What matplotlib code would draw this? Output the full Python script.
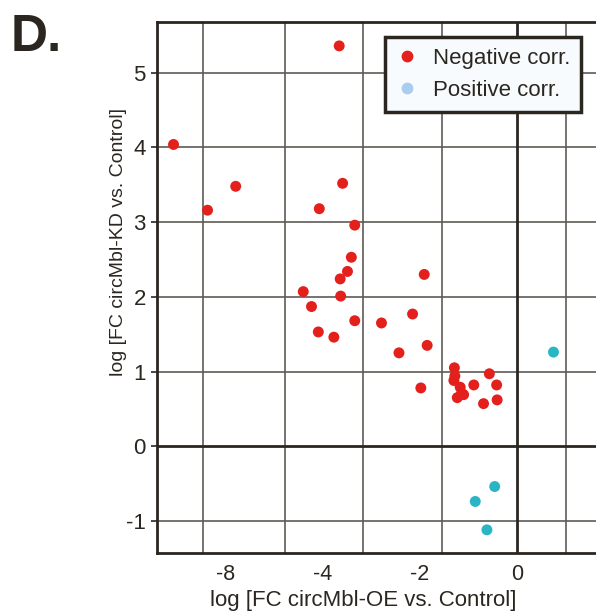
import matplotlib.pyplot as plt
from matplotlib.lines import Line2D

plt.rcParams['font.family'] = ['Liberation Sans', 'DejaVu Sans']
plt.rcParams['axes.unicode_minus'] = False

# negative correlation (red)
neg_x = [-3.66, -7.07, -5.79, -3.59, -6.37, -4.07, -3.34, -3.41, -3.49, -3.64,
         -1.91, -4.40, -3.63, -4.23, -2.15, -3.34, -2.79, -4.09, -3.77, -2.43,
         -1.85, -1.29, -1.28, -1.30, -1.17, -1.10, -1.23, -0.89, -0.57, -0.42,
         -0.69, -0.41, -1.98, -1.14]
neg_y = [5.36, 4.04, 3.48, 3.52, 3.16, 3.18, 2.96, 2.53, 2.34, 2.24,
         2.30, 2.07, 2.01, 1.87, 1.77, 1.68, 1.65, 1.53, 1.46, 1.25,
         1.35, 1.05, 0.94, 0.88, 0.79, 0.69, 0.65, 0.82, 0.97, 0.82,
         0.57, 0.62, 0.78, 0.71]

# positive correlation (cyan)
pos_x = [0.75, -0.46, -0.86, -0.62]
pos_y = [1.26, -0.54, -0.74, -1.12]

yticks = [-1, 0, 1, 2, 3, 4, 5]
xtick_pos = [-6, -4, -2, 0]
xtick_labels = ['-8', '-4', '-2', '0']
xgrid = [-6.46, -4.77, -3.17, -1.54, 1.01]

dark = '#2b2620'
gridc = '#5f5a55'
red = '#e3201b'
cyan = '#2ab5c5'
lightblue = '#a9cdef'

fig = plt.figure(figsize=(5.96, 6.14), dpi=100)
ax = fig.add_axes([157/596, 61/614, 1 - 157/596, 531/614])
ax.set_xlim(-7.41, 1.625)
ax.set_ylim(-1.43, 5.68)

for g in xgrid:
    ax.axvline(g, color=gridc, lw=1.2, zorder=1)
for t in yticks:
    if t != 0:
        ax.axhline(t, color=gridc, lw=1.2, zorder=1)
ax.axhline(0, color=dark, lw=2, zorder=1)
ax.axvline(0, color=dark, lw=2, zorder=1)

ax.scatter(neg_x, neg_y, s=62, color=red, edgecolors='none', zorder=3)
ax.scatter(pos_x, pos_y, s=62, color=cyan, edgecolors='none', zorder=3)

ax.set_yticks(yticks)
ax.set_xticks(xtick_pos)
ax.set_xticklabels(xtick_labels)
ax.tick_params(axis='y', length=4, width=1.2, color=dark, labelcolor=dark,
               labelsize=16, pad=4)
ax.tick_params(axis='x', length=0, labelcolor=dark, labelsize=15.5, pad=8)

for side in ['left', 'bottom', 'top']:
    ax.spines[side].set_color(dark)
    ax.spines[side].set_linewidth(2)
ax.spines['right'].set_visible(False)

ax.set_xlabel('log [FC circMbl-OE vs. Control]', fontsize=16, color=dark)
ax.xaxis.set_label_coords(0.47, -0.07)
ax.set_ylabel('log [FC circMbl-KD vs. Control]', fontsize=14, color=dark)
ax.yaxis.set_label_coords(-0.068, 0.586)

handles = [
    Line2D([], [], ls='none', marker='o', ms=8.5, color=red, mec='none'),
    Line2D([], [], ls='none', marker='o', ms=8.5, color=lightblue, mec='none'),
]
leg = ax.legend(handles, ['Negative corr.', 'Positive corr.'],
                loc='upper left', bbox_to_anchor=((387 - 157) / 443, (553 - 37) / 531),
                fontsize=16, frameon=True, fancybox=False, borderpad=0.5,
                handletextpad=0.65, labelspacing=0.5, handlelength=1.0,
                borderaxespad=0)
leg.get_frame().set_edgecolor(dark)
leg.get_frame().set_linewidth(2.5)
leg.get_frame().set_facecolor('#f8fbfe')
leg.get_frame().set_alpha(1)
for txt in leg.get_texts():
    txt.set_color(dark)
leg.set_zorder(5)

fig.text(11/596, 1 - 51/614, 'D.', fontsize=37, fontweight='bold', color=dark,
         va='baseline', ha='left')

fig.savefig('out.png', dpi=100)
